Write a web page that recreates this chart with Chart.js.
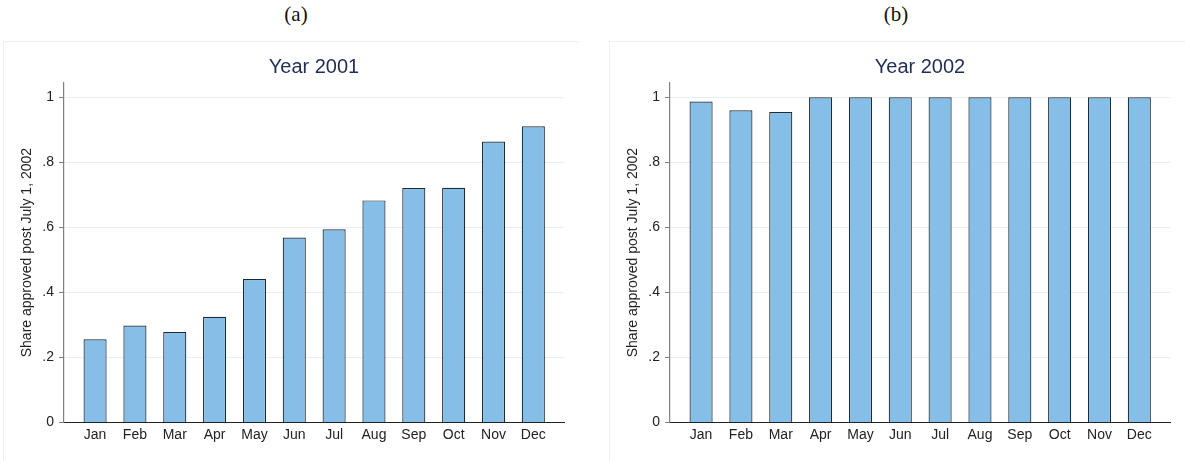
<!DOCTYPE html>
<html>
<head>
<meta charset="utf-8">
<script src="https://cdn.jsdelivr.net/npm/chart.js@4.4.1/dist/chart.umd.min.js"></script>
<style>
	body { margin: 0; width: 1185px; height: 461px; background: #fff; position: relative; overflow: hidden; }
	.tag { position: absolute; top: 2px; width: 60px; margin-left: -30px; text-align: center; font-family: "Liberation Serif", serif; font-size: 21px; color: #111; }
	.panel { position: absolute; top: 41px; border-left: 1px solid #edf1f4; border-top: 1px solid #edf1f4; }
	canvas { display: block; }
</style>
</head>
<body>
<div class="tag" style="left:296px">(a)</div>
<div class="tag" style="left:896px">(b)</div>
<div class="panel" style="left:3px"><canvas id="c2001" width="576" height="420"></canvas></div>
<div class="panel" style="left:609px"><canvas id="c2002" width="576" height="420"></canvas></div>
<script>
const months = ["Jan", "Feb", "Mar", "Apr", "May", "Jun", "Jul", "Aug", "Sep", "Oct", "Nov", "Dec"];
const share2001 = [0.256, 0.298, 0.278, 0.325, 0.441, 0.569, 0.594, 0.683, 0.721, 0.722, 0.864, 0.911];
const share2002 = [0.987, 0.960, 0.955, 1, 1, 1, 1, 1, 1, 1, 1, 1];
const yTicks = [0, 0.2, 0.4, 0.6, 0.8, 1];
const yTickLabels = ["0", ".2", ".4", ".6", ".8", "1"];
const yLabel = "Share approved post July 1, 2002";

function drawPanel(canvasId, title, values, yWidth, rightPad, yTitlePad) {
	const ctx = document.getElementById(canvasId);

	new Chart(ctx, {
		type: "bar",
		data: {
			datasets: [{
				data: values.map((v, i) => ({ x: i, y: v })),
				backgroundColor: "#85bfe8",
				borderColor: "#1e2a36",
				borderWidth: 1.2,
				borderSkipped: "bottom",
				barPercentage: 0.58,
				categoryPercentage: 1
			}]
		},
		options: {
			responsive: false,
			animation: false,
			layout: {
				padding: { left: 0, right: rightPad, top: 0, bottom: 0 }
			},
			scales: {
				x: {
					type: "linear",
					offset: false,
					min: -0.78,
					max: 11.77,
					afterBuildTicks: function(scale) {
						scale.ticks = months.map((m, i) => ({ value: i }));
					},
					afterFit: function(scale) {
						scale.height = 39.5;
					},
					ticks: {
						autoSkip: false,
						maxRotation: 0,
						padding: 4,
						color: "#222",
						font: { family: "Liberation Sans", size: 14 },
						callback: function(value) {
							return months[value];
						}
					},
					grid: { display: false, drawTicks: false },
					border: { color: "#222", width: 1 }
				},
				y: {
					min: 0,
					max: 1.045,
					afterBuildTicks: function(scale) {
						scale.ticks = yTicks.map(v => ({ value: v }));
					},
					afterFit: function(scale) {
						scale.width = yWidth;
					},
					ticks: {
						padding: 5,
						color: "#222",
						font: { family: "Liberation Sans", size: 14 },
						callback: function(value) {
							return yTickLabels[yTicks.indexOf(value)];
						}
					},
					grid: {
						color: "#e7eff1",
						tickColor: "#808080",
						tickLength: 5
					},
					border: { color: "#808080", width: 1.2 },
					title: {
						display: true,
						text: yLabel,
						color: "#222",
						font: { family: "Liberation Sans", size: 14 },
						padding: { top: 15, bottom: 0 }
					}
				}
			},
			plugins: {
				legend: { display: false },
				tooltip: { enabled: false },
				title: {
					display: true,
					text: title,
					fullSize: false,
					color: "#1f2d57",
					font: { family: "Liberation Sans", size: 20, weight: "normal" },
					padding: { top: 13, bottom: 3.7 }
				}
			}
		}
	});
}

drawPanel("c2001", "Year 2001", share2001, 60, 16);
drawPanel("c2002", "Year 2002", share2002, 60, 16);
</script>
</body>
</html>
